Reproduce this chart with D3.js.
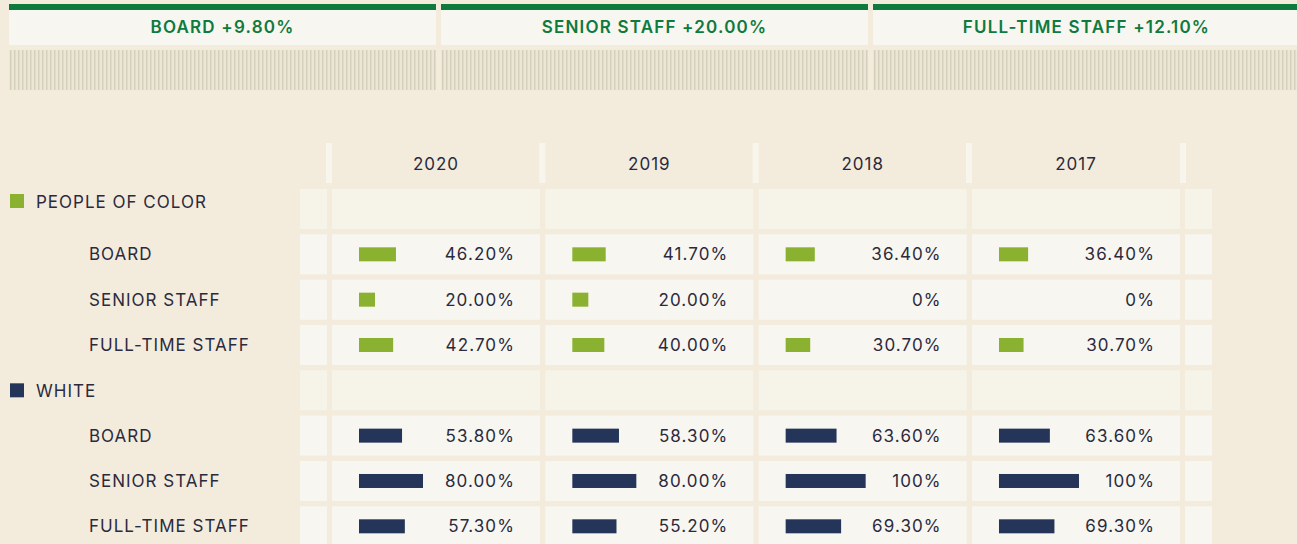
<!DOCTYPE html>
<html>
<head>
<meta charset="utf-8">
<script src="https://cdn.jsdelivr.net/npm/d3@7"></script>
<style>
  html, body { margin: 0; padding: 0; background: #f3ecdd; }
  svg { display: block; font-family: Inter, "Noto Sans", sans-serif; }
</style>
</head>
<body>
<div id="chart-area"></div>
<script>
// data
const cardLabels = ['BOARD +9.80%', 'SENIOR STAFF +20.00%', 'FULL-TIME STAFF +12.10%'];
const years = ['2020', '2019', '2018', '2017'];
const groups = ['PEOPLE OF COLOR', 'WHITE'];
const roles = ['BOARD', 'SENIOR STAFF', 'FULL-TIME STAFF'];
const pocValues = [
  [46.2, 41.7, 36.4, 36.4],
  [20.0, 20.0, 0, 0],
  [42.7, 40.0, 30.7, 30.7]
];
const whiteValues = [
  [53.8, 58.3, 63.6, 63.6],
  [80.0, 80.0, 100, 100],
  [57.3, 55.2, 69.3, 69.3]
];

const W = 1297, H = 544;
const bg = '#f3ecdd', cellBg = '#f8f6f0', groupBg = '#f6f3e8';
const green = '#0f7a3e', textCol = '#2b2a3d';
const groupColors = ['#8ab130', '#253559'];
// the first group label sits near the top of its row, the second is centred
const groupLabelTop = [5, 13];

const svg = d3.select('#chart-area')
  .append('svg')
  .attr('width', W)
  .attr('height', H);

svg.append('rect').attr('width', W).attr('height', H).attr('fill', bg);

// stripe pattern
const pat = svg.append('defs').append('pattern')
  .attr('id', 'stripes')
  .attr('patternUnits', 'userSpaceOnUse')
  .attr('width', 4).attr('height', 10);
pat.append('rect').attr('width', 4).attr('height', 10).attr('fill', '#ebe6d5');
pat.append('rect').attr('x', 1).attr('width', 1.4).attr('height', 10).attr('fill', '#d3cfbb');

// top cards
const xCard = d3.scaleBand()
  .domain(cardLabels)
  .range([9, 9 + 3 * 432 - 5])
  .paddingInner(5 / 432);

const cards = svg.selectAll('.card').data(cardLabels).enter()
  .append('g').attr('class', 'card')
  .attr('transform', d => `translate(${xCard(d)},0)`);

cards.append('rect').attr('y', 4).attr('width', xCard.bandwidth()).attr('height', 6).attr('fill', green);
cards.append('rect').attr('y', 10).attr('width', xCard.bandwidth()).attr('height', 35).attr('fill', cellBg);
cards.append('rect').attr('y', 50).attr('width', xCard.bandwidth()).attr('height', 40).attr('fill', 'url(#stripes)');
cards.append('text')
  .attr('x', xCard.bandwidth() / 2)
  .attr('y', 33)
  .attr('text-anchor', 'middle')
  .attr('font-size', '17px')
  .attr('font-weight', 600)
  .attr('letter-spacing', '1.2px')
  .attr('fill', green)
  .text(d => d);

// table rows
const rows = [];
groups.forEach((g, gi) => {
  rows.push({key: g, group: gi, header: true});
  roles.forEach((r, ri) => {
    const vals = gi === 0 ? pocValues[ri] : whiteValues[ri];
    rows.push({key: g + '|' + r, label: r, group: gi, header: false, values: vals});
  });
});

const colStep = 213.33, rowStep = 45.33;

const x = d3.scaleBand()
  .domain(years)
  .range([332, 332 + years.length * colStep - (colStep - 208)])
  .paddingInner((colStep - 208) / colStep);

const y = d3.scaleBand()
  .domain(rows.map(d => d.key))
  .range([189, 189 + rows.length * rowStep - (rowStep - 40)])
  .paddingInner((rowStep - 40) / rowStep);

const barW = d3.scaleLinear().domain([0, 100]).range([0, 80]);
const fmt = v => (v === 0 || v === 100) ? v + '%' : v.toFixed(2) + '%';

const lastEnd = x(years[years.length - 1]) + x.bandwidth();

// header separators
const sepX = years.map(yr => x(yr) - 6).concat([lastEnd]);
svg.selectAll('.sep').data(sepX).enter()
  .append('rect')
  .attr('x', d => d).attr('y', 143)
  .attr('width', 6).attr('height', 40)
  .attr('fill', '#f8f6ec');

// year labels
svg.selectAll('.year').data(years).enter()
  .append('text')
  .attr('x', d => x(d) + x.bandwidth() / 2)
  .attr('y', 170)
  .attr('text-anchor', 'middle')
  .attr('font-size', '17px')
  .attr('letter-spacing', '1px')
  .attr('fill', textCol)
  .text(d => d);

const rowG = svg.selectAll('.row').data(rows).enter()
  .append('g').attr('class', 'row')
  .attr('transform', d => `translate(0,${y(d.key)})`);

const rh = y.bandwidth();

// side cells
rowG.append('rect').attr('x', 300).attr('width', 27).attr('height', rh)
  .attr('fill', d => d.header ? groupBg : cellBg);
rowG.append('rect').attr('x', lastEnd + 5).attr('width', 27).attr('height', rh)
  .attr('fill', d => d.header ? groupBg : cellBg);

// year cells
rowG.selectAll('.cell').data(d => years.map(yr => ({yr, row: d})))
  .enter().append('rect')
  .attr('x', d => x(d.yr)).attr('width', x.bandwidth()).attr('height', rh)
  .attr('fill', d => d.row.header ? groupBg : cellBg);

// labels
const headRows = rowG.filter(d => d.header);
headRows.append('rect')
  .attr('x', 10).attr('y', d => groupLabelTop[d.group]).attr('width', 14).attr('height', 14)
  .attr('fill', d => groupColors[d.group]);
headRows.append('text')
  .attr('x', 36).attr('y', d => groupLabelTop[d.group] + 13.5)
  .attr('font-size', '17px').attr('letter-spacing', '1px').attr('fill', textCol)
  .text(d => d.key);
rowG.filter(d => !d.header).append('text')
  .attr('x', 89).attr('y', rh / 2 + 6)
  .attr('font-size', '17px').attr('letter-spacing', '1px').attr('fill', textCol)
  .text(d => d.label);

// bars and values
const dataRows = rowG.filter(d => !d.header);
dataRows.selectAll('.bar').data(d => years.map((yr, i) => ({yr, v: d.values[i], group: d.group})))
  .enter().append('rect')
  .attr('x', d => x(d.yr) + 27)
  .attr('y', rh / 2 - 7)
  .attr('width', d => barW(d.v))
  .attr('height', 14)
  .attr('fill', d => groupColors[d.group]);
dataRows.selectAll('.val').data(d => years.map((yr, i) => ({yr, v: d.values[i]})))
  .enter().append('text')
  .attr('x', d => x(d.yr) + 183)
  .attr('y', rh / 2 + 6)
  .attr('text-anchor', 'end')
  .attr('font-size', '17px').attr('letter-spacing', '1.1px').attr('fill', textCol)
  .text(d => fmt(d.v));
</script>
</body>
</html>
